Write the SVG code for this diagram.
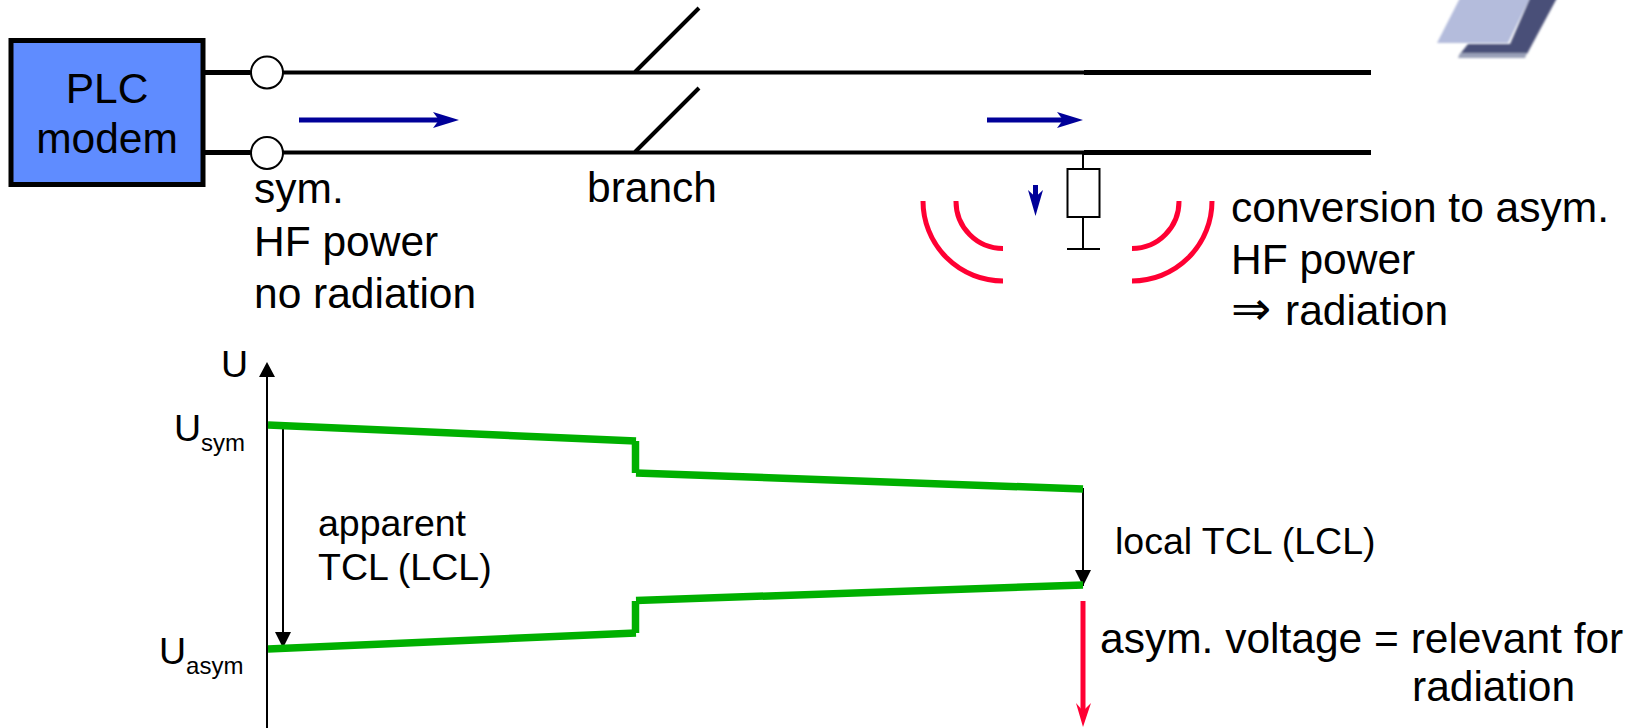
<svg xmlns="http://www.w3.org/2000/svg" width="1634" height="728" viewBox="0 0 1634 728">
<defs>
<style>
text{font-family:"Liberation Sans",Arial,sans-serif;fill:#000}
.t{font-size:42.5px}
.s{font-size:37.5px}
.sub{font-size:24px}
.ln{fill:none;stroke:#000;stroke-width:4}
.th{fill:none;stroke:#000;stroke-width:2}
.b{fill:none;stroke:#000099;stroke-width:5}
.r{fill:none;stroke:#ff0033;stroke-width:5}
.g{fill:none;stroke:#00b000;stroke-width:7.500}
</style>
<filter id="soft" x="-5%" y="-5%" width="110%" height="110%"><feGaussianBlur stdDeviation="1"/></filter>
<marker id="mb" markerUnits="userSpaceOnUse" markerWidth="28" markerHeight="18" refX="8" refY="8" orient="auto"><path d="M0,0L26,8L0,16L6,8Z" fill="#000099"/></marker>
<marker id="mk" markerUnits="userSpaceOnUse" markerWidth="18" markerHeight="18" refX="16" refY="8" orient="auto"><path d="M0,0L16,8L0,16Z" fill="#000"/></marker>
</defs>
<g id="logo" filter="url(#soft)">
<polygon points="1437,43 1460,-2 1530,-2 1508,43" fill="#b4bcdc"/>
<polygon points="1530,-2 1557,-2 1527,54 1460,54 1468,44 1510,44" fill="#4a5078"/>
<polygon points="1460,53 1527,53 1525,58 1458,58" fill="#9aa0b8"/>
</g>
<g id="connectors">
<path class="ln" d="M200,72.500H1084M200,152.500H1084"/>
<path class="ln" d="M200,72.500H250M200,152.500H250M1084,72.500H1371M1084,152.500H1371" style="stroke-width:5"/>
<path d="M635,72L699,8M635,152L699,88" fill="none" stroke="#000" stroke-width="4"/>
<path class="b" d="M299,120H441" marker-end="url(#mb)"/>
<path class="b" d="M987,120H1065" marker-end="url(#mb)"/>
<path class="b" d="M1035.500,185V203"/>
<path d="M1028,190L1035.500,216L1043,190L1035.500,197Z" fill="#000099"/>
<path class="th" d="M1083,152V169M1083,217V249M1067,249H1100"/>
<path class="r" d="M923,201A80,80 0 0 0 1003,281M956,201A47,47 0 0 0 1003,248.500M1179,201A47,47 0 0 1 1132,248.500M1212,201A80,80 0 0 1 1132,281"/>
<path class="th" d="M267,728V377"/>
<path d="M259,377L267,362L275,377Z" fill="#000"/>
<path class="th" d="M283,424V648" marker-end="url(#mk)"/>
<path class="th" d="M1083,488V586" marker-end="url(#mk)"/>
<path class="g" d="M268,425L636,441"/>
<path class="g" d="M635.500,441V473"/>
<path class="g" d="M636,473L1083,489"/>
<path class="g" d="M268,649L636,633"/>
<path class="g" d="M635.500,633V601"/>
<path class="g" d="M636,600.500L1083,585"/>
<path class="r" d="M1083,601V712"/>
<path d="M1076,703L1083,727L1091,703L1083,711Z" fill="#ff0033"/>
</g>
<g id="modem">
<rect x="11" y="40.500" width="192" height="144" fill="#5f8cff" stroke="#000" stroke-width="5"/>
<text class="t" x="107" y="103" text-anchor="middle">PLC</text>
<text class="t" x="107" y="153" text-anchor="middle">modem</text>
</g>
<g id="terminal-top"><circle cx="267" cy="72.500" r="16" fill="#fff" stroke="#000" stroke-width="2"/></g>
<g id="terminal-bottom"><circle cx="267" cy="153" r="16" fill="#fff" stroke="#000" stroke-width="2"/></g>
<g id="resistor"><rect x="1067.500" y="169" width="32" height="48" fill="#fff" stroke="#000" stroke-width="2"/></g>
<g id="labels">
<text class="t" x="254" y="203">sym.</text>
<text class="t" x="254" y="256">HF power</text>
<text class="t" x="254" y="308">no radiation</text>
<text class="t" x="587" y="202">branch</text>
<text class="t" x="1231" y="222">conversion to asym.</text>
<text class="t" x="1231" y="274">HF power</text>
<text class="t" x="1231" y="325"><tspan style="font-family:'DejaVu Sans',sans-serif;font-size:48px">⇒</tspan> <tspan x="1285">radiation</tspan></text>
<text class="s" x="221" y="377">U</text>
<text class="s" x="174" y="441">U<tspan class="sub" dy="10">sym</tspan></text>
<text class="s" x="159" y="664">U<tspan class="sub" dy="10">asym</tspan></text>
<text class="s" x="318" y="536">apparent</text>
<text class="s" x="318" y="580">TCL (LCL)</text>
<text class="s" x="1115" y="554">local TCL (LCL)</text>
<text class="t" x="1100" y="653">asym. voltage = relevant for</text>
<text class="t" x="1412" y="701">radiation</text>
</g>
</svg>
